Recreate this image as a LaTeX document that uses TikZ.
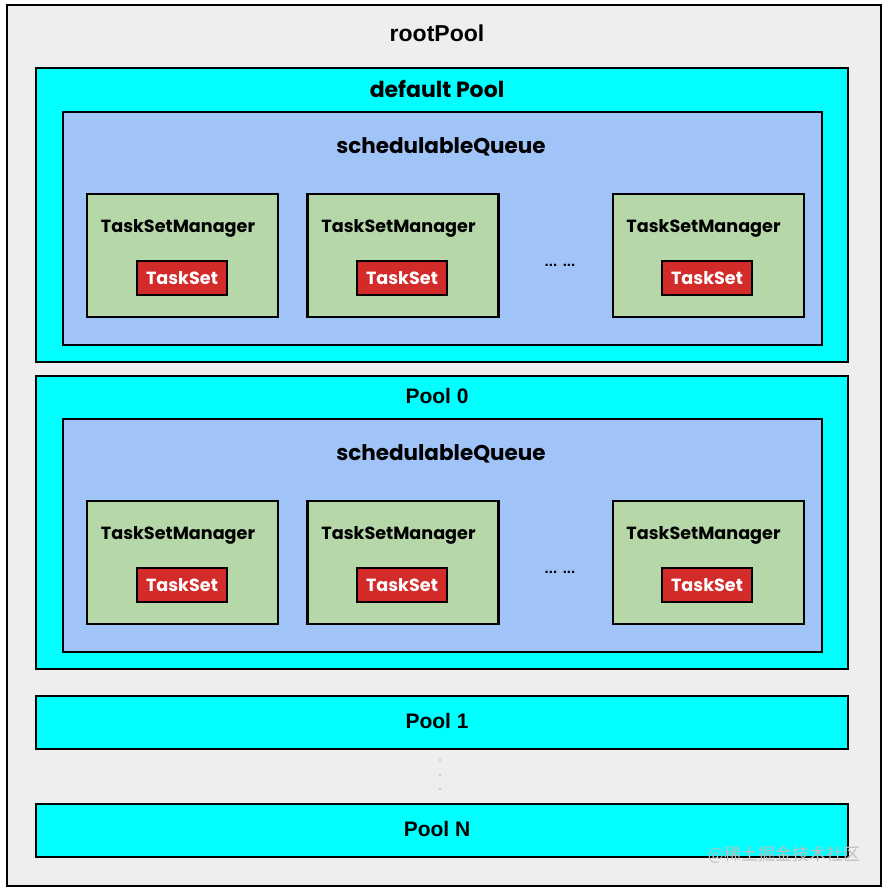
\documentclass[tikz,border=0pt]{standalone}
\usepackage{fontspec}
\setmainfont{Liberation Sans}
\newfontfamily\handfont{Poppins}
\newfontfamily\cjkfont{Noto Sans CJK SC}
\definecolor{rootfill}{HTML}{EEEEEE}
\definecolor{poolfill}{HTML}{00FFFF}
\definecolor{queuefill}{HTML}{A0C4F8}
\definecolor{tsmfill}{HTML}{B6D7A8}
\definecolor{tsfill}{HTML}{D32A2A}
\begin{document}
\begin{tikzpicture}[x=1pt,y=-1pt,
  box/.style={draw=black,line width=2.6pt,rectangle,inner sep=0pt,outer sep=0pt},
  rootbox/.style={box,fill=rootfill,minimum width=874pt,minimum height=881pt},
  poolbox/.style={box,fill=poolfill,minimum width=812pt},
  queuebox/.style={box,fill=queuefill,minimum width=759pt,minimum height=233pt},
  tsmbox/.style={box,fill=tsmfill,minimum width=191pt,minimum height=123pt},
  tsbox/.style={box,fill=tsfill,minimum width=90pt,minimum height=34pt,line width=2.2pt},
  pooltext/.style={font=\bfseries\fontsize{21}{24}\selectfont},
  roottext/.style={font=\bfseries\fontsize{23}{25}\selectfont},
  handtext/.style={font=\handfont\bfseries\fontsize{21.5}{23}\selectfont},
  deftext/.style={font=\handfont\bfseries\fontsize{22}{23}\selectfont},
  tsmtext/.style={font=\handfont\bfseries\fontsize{17.6}{19}\selectfont},
  tstext/.style={font=\handfont\bfseries\fontsize{17.6}{19}\selectfont,text=white},
  dotstext/.style={font=\bfseries\fontsize{15}{16}\selectfont}
]
\useasboundingbox (0,0) rectangle (888,891);
\fill[white] (0,0) rectangle (888,891);
\node[rootbox] (root) at (444,445.5) {};
\node[roottext] (rootlabel) at (437,33) {rootPool};

% default pool
\node[poolbox,minimum height=294pt] (defpool) at (442,215) {};
\node[deftext] (deflabel) at (437,89) {default Pool};
\node[queuebox] (q1) at (442.5,228.5) {};
\node[handtext] (q1label) at (441,147) {schedulableQueue};
\node[tsmbox] (t11) at (182.5,255.5) {};
\node[tsmbox] (t12) at (403,255.5) {};
\node[tsmbox] (t13) at (708.5,255.5) {};
\node[tsmtext] at (178,228) {TaskSetManager};
\node[tsmtext] at (398.5,228) {TaskSetManager};
\node[tsmtext] at (703.5,228) {TaskSetManager};
\node[tsbox] (s11) at (182,278) {};
\node[tsbox] (s12) at (402,278) {};
\node[tsbox] (s13) at (707,278) {};
\node[tstext] at (s11) {TaskSet};
\node[tstext] at (s12) {TaskSet};
\node[tstext] at (s13) {TaskSet};
\node[dotstext] (d1) at (560,265) {... ...};

% pool 0
\node[poolbox,minimum height=293pt] (pool0) at (442,522.5) {};
\node[pooltext] (p0label) at (437,396) {Pool 0};
\node[queuebox] (q2) at (442.5,535.5) {};
\node[handtext] (q2label) at (441,454) {schedulableQueue};
\node[tsmbox] (t21) at (182.5,562.5) {};
\node[tsmbox] (t22) at (403,562.5) {};
\node[tsmbox] (t23) at (708.5,562.5) {};
\node[tsmtext] at (178,535) {TaskSetManager};
\node[tsmtext] at (398.5,535) {TaskSetManager};
\node[tsmtext] at (703.5,535) {TaskSetManager};
\node[tsbox] (s21) at (182,585) {};
\node[tsbox] (s22) at (402,585) {};
\node[tsbox] (s23) at (707,585) {};
\node[tstext] at (s21) {TaskSet};
\node[tstext] at (s22) {TaskSet};
\node[tstext] at (s23) {TaskSet};
\node[dotstext] (d2) at (560,572) {... ...};

% pool 1 and N
\node[poolbox,minimum height=53pt] (pool1) at (442,722.5) {};
\node[pooltext] (p1label) at (437,721) {Pool 1};
\node[poolbox,minimum height=53pt] (poolN) at (442,830.5) {};
\node[pooltext] (pNlabel) at (437,829) {Pool N};
\foreach \yy in {760,775,789} \fill[gray!70] (440,\yy) circle (0.9pt);

% watermark
\node[font=\cjkfont\fontsize{17}{19}\selectfont,text=black!25] (wm) at (784,855) {@稀土掘金技术社区};
\end{tikzpicture}
\end{document}
